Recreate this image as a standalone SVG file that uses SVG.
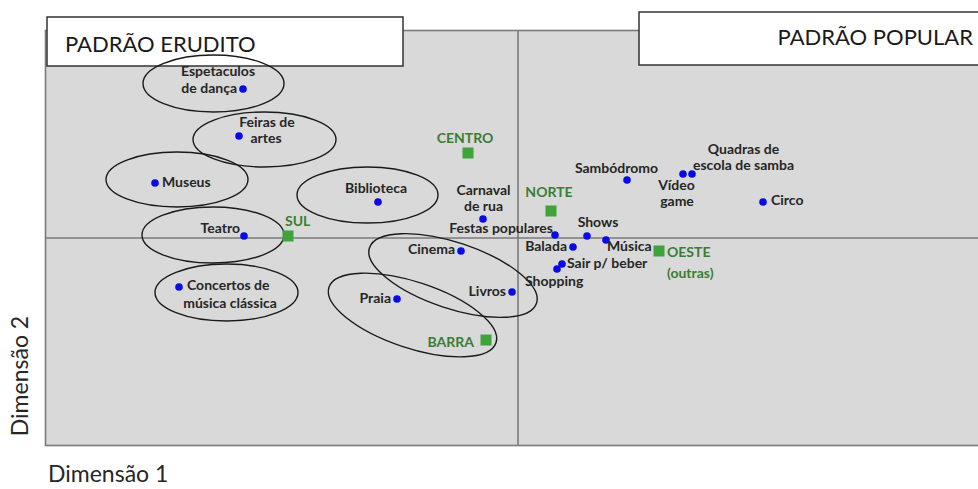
<svg xmlns="http://www.w3.org/2000/svg" width="978" height="489" viewBox="0 0 978 489">
<style>
.lbl{font-family:Lato,"Liberation Sans",sans-serif;font-size:14px;font-weight:bold;fill:#262626}
.grn{font-family:Lato,"Liberation Sans",sans-serif;font-size:14px;font-weight:bold;fill:#3a7d34}
.ttl{font-family:Lato,"Liberation Sans",sans-serif;font-size:22px;fill:#1a1a1a}
.ax{font-family:Lato,"Liberation Sans",sans-serif;font-size:23px;fill:#262626}
.dot{fill:#0a0ae6}
.sq{fill:#3fa33a}
.ell{fill:none;stroke:#1a1a1a;stroke-width:1.4}
.axis{stroke:#7a7a7a;stroke-width:1.6}
.box{fill:#ffffff;stroke:#333333;stroke-width:1.5}
</style>
<rect width="978" height="489" fill="#ffffff"/>
<rect id="plot" x="45.5" y="30.5" width="940" height="415" fill="#d9d9d9" stroke="#7a7a7a" stroke-width="1.6"/>
<g id="axes">
<line class="axis" x1="518" y1="30" x2="518" y2="446"/>
<line class="axis" x1="45" y1="238" x2="978" y2="238"/>
</g>
<g id="title-erudito"><rect class="box" x="47" y="17" width="356" height="49"/><text class="ttl" x="65" y="52">PADRÃO ERUDITO</text></g>
<g id="title-popular"><rect class="box" x="639" y="12" width="345" height="53"/><text class="ttl" x="973" y="45" text-anchor="end">PADRÃO POPULAR</text></g>
<g id="dim1"><text class="ax" x="48" y="482">Dimensão 1</text></g>
<g id="dim2"><text class="ax" transform="translate(28,376) rotate(-90)" text-anchor="middle">Dimensão 2</text></g>

<g id="espetaculos"><ellipse class="ell" cx="213.5" cy="83.5" rx="70.5" ry="28.5"/><circle class="dot" cx="243" cy="89" r="3.8"/><text class="lbl" x="218" y="76" text-anchor="middle">Espetaculos</text><text class="lbl" x="237" y="93" text-anchor="end">de dança</text></g>
<g id="feiras"><ellipse class="ell" cx="264.5" cy="139.5" rx="71.5" ry="27.5"/><circle class="dot" cx="239" cy="136" r="3.8"/><text class="lbl" x="267" y="127" text-anchor="middle">Feiras de</text><text class="lbl" x="266" y="143" text-anchor="middle">artes</text></g>
<g id="museus"><ellipse class="ell" cx="177" cy="179.5" rx="71" ry="27.5"/><circle class="dot" cx="155" cy="183" r="3.8"/><text class="lbl" x="162" y="187">Museus</text></g>
<g id="biblioteca"><ellipse class="ell" cx="367.5" cy="195" rx="70.5" ry="28"/><circle class="dot" cx="378" cy="202" r="3.8"/><text class="lbl" x="376" y="193" text-anchor="middle">Biblioteca</text></g>
<g id="teatro"><ellipse class="ell" cx="213" cy="235" rx="71" ry="28"/><circle class="dot" cx="244" cy="236" r="3.8"/><text class="lbl" x="240" y="233" text-anchor="end">Teatro</text></g>
<g id="concertos"><ellipse class="ell" cx="226.5" cy="292.5" rx="71.5" ry="28.5"/><circle class="dot" cx="179" cy="287" r="3.8"/><text class="lbl" x="187" y="290">Concertos de</text><text class="lbl" x="230" y="308" text-anchor="middle">música clássica</text></g>
<g id="cinema-livros"><ellipse class="ell" cx="453" cy="275.5" rx="88" ry="33" transform="rotate(18.4 453 275.5)"/><circle class="dot" cx="461" cy="251" r="3.8"/><text class="lbl" x="455" y="254" text-anchor="end">Cinema</text><circle class="dot" cx="512" cy="292" r="3.8"/><text class="lbl" x="506" y="296" text-anchor="end">Livros</text></g>
<g id="praia-barra"><ellipse class="ell" cx="412.5" cy="315" rx="88" ry="33" transform="rotate(18.4 412.5 315)"/><circle class="dot" cx="397" cy="299" r="3.8"/><text class="lbl" x="391" y="303" text-anchor="end">Praia</text></g>
<g id="barra"><rect class="sq" x="480.5" y="334.5" width="11" height="11"/><text class="grn" x="474" y="347" text-anchor="end">BARRA</text></g>
<g id="sul"><rect class="sq" x="282.5" y="230.5" width="11" height="11"/><text class="grn" x="285" y="226">SUL</text></g>
<g id="centro"><rect class="sq" x="462.5" y="147.5" width="11" height="11"/><text class="grn" x="465" y="143" text-anchor="middle">CENTRO</text></g>
<g id="norte"><rect class="sq" x="545.5" y="205.5" width="11" height="11"/><text class="grn" x="549" y="197" text-anchor="middle">NORTE</text></g>
<g id="oeste"><rect class="sq" x="653.5" y="245.5" width="11" height="11"/><text class="grn" x="667" y="257">OESTE</text><text class="grn" x="667" y="278">(outras)</text></g>
<g id="carnaval"><circle class="dot" cx="483" cy="219" r="3.8"/><text class="lbl" x="483.5" y="195" text-anchor="middle">Carnaval</text><text class="lbl" x="483.5" y="211" text-anchor="middle">de rua</text></g>
<g id="festas"><circle class="dot" cx="555" cy="235" r="3.8"/><text class="lbl" x="553" y="233" text-anchor="end">Festas populares</text></g>
<g id="shows"><circle class="dot" cx="587" cy="236" r="3.8"/><text class="lbl" x="598" y="227" text-anchor="middle">Shows</text></g>
<g id="musica"><circle class="dot" cx="606" cy="240" r="3.8"/><text class="lbl" x="607" y="251">Música</text></g>
<g id="balada"><circle class="dot" cx="573" cy="247" r="3.8"/><text class="lbl" x="567" y="251" text-anchor="end">Balada</text></g>
<g id="sair"><circle class="dot" cx="562" cy="264" r="3.8"/><text class="lbl" x="567" y="268">Sair p/ beber</text></g>
<g id="shopping"><circle class="dot" cx="557" cy="269" r="3.8"/><text class="lbl" x="525" y="286">Shopping</text></g>
<g id="sambodromo"><circle class="dot" cx="627" cy="180" r="3.8"/><text class="lbl" x="616.5" y="173" text-anchor="middle">Sambódromo</text></g>
<g id="video"><circle class="dot" cx="683" cy="174" r="3.8"/><text class="lbl" x="676.5" y="190" text-anchor="middle">Vídeo</text><text class="lbl" x="677" y="206" text-anchor="middle">game</text></g>
<g id="quadras"><circle class="dot" cx="692" cy="174" r="3.8"/><text class="lbl" x="743.5" y="154" text-anchor="middle">Quadras de</text><text class="lbl" x="743.5" y="170" text-anchor="middle">escola de samba</text></g>
<g id="circo"><circle class="dot" cx="763" cy="202" r="3.8"/><text class="lbl" x="771" y="205">Circo</text></g>
</svg>
